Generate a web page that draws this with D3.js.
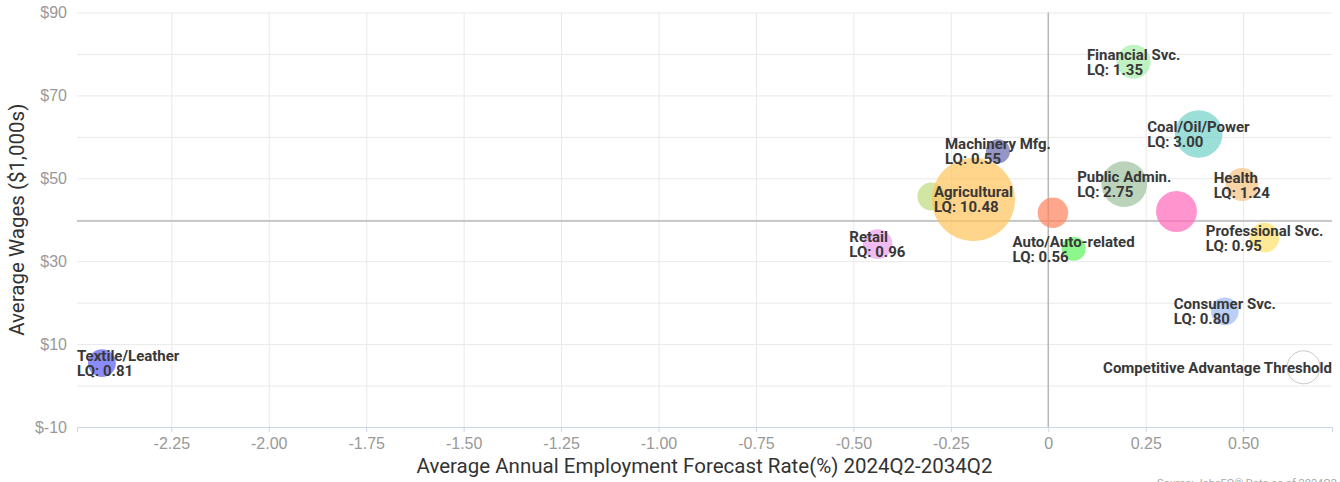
<!DOCTYPE html>
<html>
<head>
<meta charset="utf-8">
<script src="https://cdn.jsdelivr.net/npm/d3@7"></script>
<style>
  body { margin: 0; background: #fff; }
  svg { font-family: Roboto, "Noto Sans", sans-serif; display: block; }
  .tick-label { fill: #999; font-size: 16px; }
  .axis-title { fill: #333; font-size: 20.5px; }
  .bubble-label { fill: #383838; font-size: 15px; font-weight: bold; }
</style>
</head>
<body>
<div id="chart"></div>
<script>
// industries (null = bubble without a visible label)
const names = ["Textile/Leather", "Retail", null, "Agricultural", "Machinery Mfg.", null,
  "Auto/Auto-related", "Public Admin.", "Financial Svc.", null, "Coal/Oil/Power",
  "Health", "Professional Svc.", "Consumer Svc."];
const growth = [-2.428, -0.438, -0.300, -0.192, -0.129, 0.012, 0.065, 0.195, 0.219, 0.329, 0.386, 0.497, 0.555, 0.453];
const wages = [5.4, 34.1, 45.6, 44.9, 56.5, 41.7, 33.0, 48.6, 78.1, 42.0, 60.7, 48.5, 35.7, 17.9];
const lq = [0.81, 0.96, 0.82, 10.48, 0.55, 1.03, 0.56, 2.75, 1.35, 2.11, 3.00, 1.24, 0.95, 0.80];
const colors = ["#5f5ff6", "#eca2ec", "#bfdc7e", "#ffc560", "#6c6cb0", "#ff8560", "#5ff55f",
  "#9fc29f", "#a9eda9", "#ff6bbd", "#76d1c9", "#f6c383", "#fde26d", "#9fbcf2"];

const threshold = { name: "Competitive Advantage Threshold", growth: 0.655, wages: 4.4, lq: 1.25 };
const avgWage = 39.7;
const avgGrowth = 0;

const xTicks = [-2.25, -2.0, -1.75, -1.5, -1.25, -1.0, -0.75, -0.5, -0.25, 0, 0.25, 0.5];
const yTicks = [-10, 10, 30, 50, 70, 90];
const yGrid = [-10, 0, 10, 20, 30, 40, 50, 60, 70, 80, 90];

const W = 1340, H = 482;
const margin = { top: 12.5, right: 8, bottom: 55, left: 77 };
const plotW = W - margin.left - margin.right;
const plotH = H - margin.top - margin.bottom;

const svg = d3.select("#chart").append("svg")
  .attr("width", W).attr("height", H);

const g = svg.append("g")
  .attr("transform", `translate(${margin.left},${margin.top})`);

const x = d3.scaleLinear().domain([-2.492, 0.728]).range([0, plotW]);
const y = d3.scaleLinear().domain([-10, 90]).range([plotH, 0]);
const r = d3.scaleSqrt().domain([0, 10.48]).range([3.2, 41.7]);

// grid
g.append("g")
  .call(d3.axisLeft(y).tickValues(yGrid).tickSize(-plotW).tickFormat(""))
  .call(a => a.select(".domain").remove())
  .call(a => a.selectAll("line").attr("stroke", "#e9e9e9"));

g.append("g")
  .call(d3.axisBottom(x).tickValues(xTicks).tickSize(plotH).tickFormat(""))
  .call(a => a.select(".domain").remove())
  .call(a => a.selectAll("line").attr("stroke", "#e9e9e9"));

// axes
g.append("g")
  .attr("transform", `translate(0,${plotH})`)
  .call(d3.axisBottom(x).tickValues(xTicks).tickSize(5).tickPadding(6)
    .tickFormat(d => d === 0 ? "0" : d.toFixed(2)))
  .call(a => a.select(".domain").attr("stroke", "#ccd6eb"))
  .call(a => a.selectAll("line").attr("stroke", "#ccd6eb"))
  .call(a => a.selectAll("text").attr("class", "tick-label").attr("fill", null));

g.append("g")
  .call(d3.axisLeft(y).tickValues(yTicks).tickSize(0).tickPadding(10)
    .tickFormat(d => "$" + d))
  .call(a => a.select(".domain").remove())
  .call(a => a.selectAll("text").attr("class", "tick-label").attr("fill", null));

// threshold lines
g.append("line")
  .attr("x1", 0).attr("x2", plotW)
  .attr("y1", y(avgWage)).attr("y2", y(avgWage))
  .attr("stroke", "#b8b8b8").attr("stroke-width", 1.5);
g.append("line")
  .attr("x1", x(avgGrowth)).attr("x2", x(avgGrowth))
  .attr("y1", 0).attr("y2", plotH)
  .attr("stroke", "#b8b8b8").attr("stroke-width", 1.5);

const data = names.map((n, i) => ({ name: n, growth: growth[i], wages: wages[i], lq: lq[i], color: colors[i] }));

// bubbles
g.append("g").selectAll("circle")
  .data(data)
  .join("circle")
  .attr("cx", d => x(d.growth))
  .attr("cy", d => y(d.wages))
  .attr("r", d => r(d.lq))
  .attr("fill", d => d.color)
  .attr("fill-opacity", 0.72);

g.append("circle")
  .attr("cx", x(threshold.growth))
  .attr("cy", y(threshold.wages))
  .attr("r", r(threshold.lq))
  .attr("fill", "none")
  .attr("stroke", "#c8c8c8")
  .attr("stroke-width", 1);

// labels: two-line block centred on the bubble, kept inside the plot
const labels = g.append("g");
data.filter(d => d.name).forEach(d => {
  const t = labels.append("text").attr("class", "bubble-label").attr("y", y(d.wages));
  t.append("tspan").attr("x", 0).attr("dy", "-0.13em").text(d.name);
  t.append("tspan").attr("x", 0).attr("dy", "1em").text("LQ: " + d.lq.toFixed(2));
  const w = t.node().getBBox().width;
  let left = x(d.growth) - w / 2;
  left = Math.max(0, Math.min(plotW - w, left));
  t.selectAll("tspan").attr("x", left);
});

{
  const t = labels.append("text").attr("class", "bubble-label")
    .attr("dy", "0.35em").attr("y", y(threshold.wages)).text(threshold.name);
  const w = t.node().getBBox().width;
  let left = x(threshold.growth) - w / 2;
  left = Math.max(0, Math.min(plotW - w, left));
  t.attr("x", left);
}

// titles
svg.append("text")
  .attr("class", "axis-title")
  .attr("x", margin.left + plotW / 2)
  .attr("y", 473)
  .attr("text-anchor", "middle")
  .text("Average Annual Employment Forecast Rate(%) 2024Q2-2034Q2");

svg.append("text")
  .attr("class", "axis-title")
  .attr("transform", `translate(24,${margin.top + plotH / 2}) rotate(-90)`)
  .attr("text-anchor", "middle")
  .text("Average Wages ($1,000s)");

svg.append("text")
  .attr("x", 1337).attr("y", 487)
  .attr("text-anchor", "end")
  .attr("fill", "#aaa")
  .attr("font-size", 11)
  .text("Source: JobsEQ® Data as of 2024Q2");
</script>
</body>
</html>
